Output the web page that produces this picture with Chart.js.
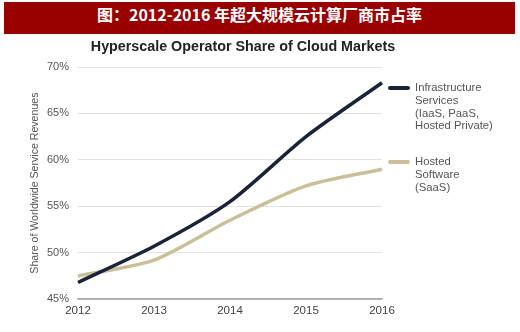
<!DOCTYPE html>
<html>
<head>
<meta charset="utf-8">
<script src="https://cdn.jsdelivr.net/npm/chart.js@4"></script>
<style>
  body { margin: 0; background: #fff; }
  #wrap { position: relative; width: 520px; height: 332px; overflow: hidden; }
  #banner {
    position: absolute; left: 4px; top: 2px; width: 511px; height: 32px;
    background: #990000; color: #fff; text-align: center; line-height: 32px;
    font: bold 16px "Noto Sans CJK SC", sans-serif;
  }
  #title {
    position: absolute; left: 0; width: 486px; top: 38px; text-align: center;
    font: bold 14.3px "Liberation Sans", Arial, sans-serif; color: #222;
  }
  .leg { position: absolute; left: 388px; font: 11.3px "Liberation Sans", Arial, sans-serif; color: #555; }
  .leg .sw { position: absolute; left: 0; width: 22px; height: 4px; border-radius: 2px; }
  .leg .tx { position: absolute; left: 27px; line-height: 12.8px; white-space: nowrap; }
  canvas { position: absolute; left: 0; top: 0; }
</style>
</head>
<body>
<div id="wrap">
  <canvas id="cloudChart" width="520" height="332"></canvas>
  <div id="banner">图：2012-2016 年超大规模云计算厂商市占率</div>
  <div id="title">Hyperscale Operator Share of Cloud Markets</div>
  <div id="legend"></div>
</div>
<script>
const years = ["2012", "2013", "2014", "2015", "2016"];
const infraShare = [46.8, 50.7, 55.5, 62.5, 68.3];
const saasShare = [47.5, 49.2, 53.5, 57.2, 59.0];
const seriesNames = [
  ["Infrastructure", "Services", "(IaaS, PaaS,", "Hosted Private)"],
  ["Hosted", "Software", "(SaaS)"]
];
const seriesColors = ["#1b2338", "#c9bf98"];

const data = {
  labels: years,
  datasets: [
    { label: seriesNames[0].join(" "), data: infraShare, borderColor: seriesColors[0], borderWidth: 3.5, pointRadius: 0, tension: 0.25 },
    { label: seriesNames[1].join(" "), data: saasShare, borderColor: seriesColors[1], borderWidth: 3.5, pointRadius: 0, tension: 0.25 }
  ]
};

const config = {
  type: "line",
  data,
  options: {
    responsive: false,
    animation: false,
    layout: { padding: { left: 22, right: 138, top: 67, bottom: 9 } },
    plugins: { legend: { display: false }, tooltip: { enabled: false } },
    scales: {
      x: {
        offset: false,
        grid: { display: false, drawTicks: false },
        border: { display: true, color: "#b0b0b0", width: 1.5 },
        ticks: { color: "#444", font: { family: "Liberation Sans", size: 11.5 }, padding: 5 }
      },
      y: {
        min: 45, max: 70,
        afterFit: function (scale) { scale.width = 56; },
        border: { display: false },
        grid: {
          drawTicks: false,
          color: function (ctx) { return ctx.index === 0 ? "#b0b0b0" : "#e2e2e2"; }
        },
        ticks: {
          stepSize: 5, padding: 9, color: "#555",
          font: { family: "Liberation Sans", size: 11 },
          callback: function (v) { return v + "%"; }
        },
        title: {
          display: true, text: "Share of Worldwide Service Revenues", color: "#555",
          font: { family: "Liberation Sans", size: 10.6 }, padding: { top: 7, bottom: 4 }
        }
      }
    }
  }
};

const myChart = new Chart(document.getElementById("cloudChart"), config);

// legend next to line ends
let legendBox = document.getElementById("legend");
let legendTops = [82, 156];
seriesNames.forEach(function (lines, i) {
  let item = document.createElement("div");
  item.className = "leg";
  item.style.top = legendTops[i] + "px";
  item.innerHTML = '<div class="sw" style="top:4px;background:' + seriesColors[i] + '"></div>' +
    '<div class="tx" style="top:-1px">' + lines.join("<br>") + "</div>";
  legendBox.appendChild(item);
});
</script>
</body>
</html>
